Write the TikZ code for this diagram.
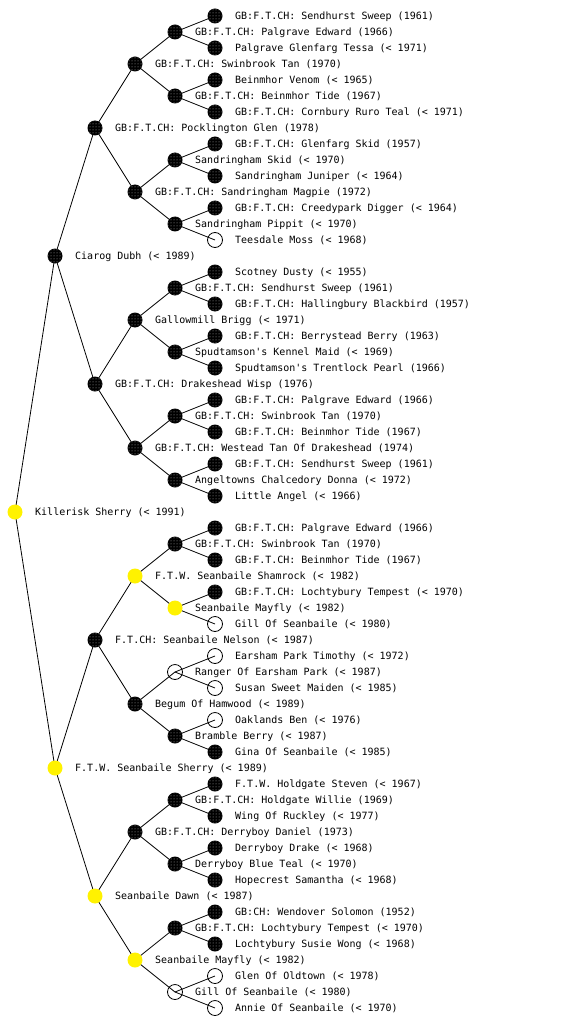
\documentclass[tikz,border=0pt]{standalone}
\usepackage{fontspec}
\newfontfamily\monof{DejaVu Sans Mono}
\usetikzlibrary{backgrounds,patterns}
\begin{document}
\begin{tikzpicture}[x=1pt,y=-1pt,
  pnode/.style={circle,minimum size=15pt,inner sep=0pt,outer sep=0pt},
  blk/.style={pnode,preaction={fill=black},pattern=dots,pattern color=white!70!black},
  yel/.style={pnode,fill=yellow},
  wht/.style={pnode,draw=black,line width=0.8pt},
  lbl/.style={font=\monof\fontsize{10}{12}\selectfont,inner sep=0pt,anchor=base west,text=black},
  conn/.style={draw=black,line width=0.8pt}]
\useasboundingbox (0,0) rectangle (560,1024);
\foreach \r/\l/\s/\t in {
 1/5/blk/{GB:F.T.CH: Sendhurst Sweep (1961)},
 2/4/blk/{GB:F.T.CH: Palgrave Edward (1966)},
 3/5/blk/{Palgrave Glenfarg Tessa (< 1971)},
 4/3/blk/{GB:F.T.CH: Swinbrook Tan (1970)},
 5/5/blk/{Beinmhor Venom (< 1965)},
 6/4/blk/{GB:F.T.CH: Beinmhor Tide (1967)},
 7/5/blk/{GB:F.T.CH: Cornbury Ruro Teal (< 1971)},
 8/2/blk/{GB:F.T.CH: Pocklington Glen (1978)},
 9/5/blk/{GB:F.T.CH: Glenfarg Skid (1957)},
 10/4/blk/{Sandringham Skid (< 1970)},
 11/5/blk/{Sandringham Juniper (< 1964)},
 12/3/blk/{GB:F.T.CH: Sandringham Magpie (1972)},
 13/5/blk/{GB:F.T.CH: Creedypark Digger (< 1964)},
 14/4/blk/{Sandringham Pippit (< 1970)},
 15/5/wht/{Teesdale Moss (< 1968)},
 16/1/blk/{Ciarog Dubh (< 1989)},
 17/5/blk/{Scotney Dusty (< 1955)},
 18/4/blk/{GB:F.T.CH: Sendhurst Sweep (1961)},
 19/5/blk/{GB:F.T.CH: Hallingbury Blackbird (1957)},
 20/3/blk/{Gallowmill Brigg (< 1971)},
 21/5/blk/{GB:F.T.CH: Berrystead Berry (1963)},
 22/4/blk/{Spudtamson's Kennel Maid (< 1969)},
 23/5/blk/{Spudtamson's Trentlock Pearl (1966)},
 24/2/blk/{GB:F.T.CH: Drakeshead Wisp (1976)},
 25/5/blk/{GB:F.T.CH: Palgrave Edward (1966)},
 26/4/blk/{GB:F.T.CH: Swinbrook Tan (1970)},
 27/5/blk/{GB:F.T.CH: Beinmhor Tide (1967)},
 28/3/blk/{GB:F.T.CH: Westead Tan Of Drakeshead (1974)},
 29/5/blk/{GB:F.T.CH: Sendhurst Sweep (1961)},
 30/4/blk/{Angeltowns Chalcedory Donna (< 1972)},
 31/5/blk/{Little Angel (< 1966)},
 32/0/yel/{Killerisk Sherry (< 1991)},
 33/5/blk/{GB:F.T.CH: Palgrave Edward (1966)},
 34/4/blk/{GB:F.T.CH: Swinbrook Tan (1970)},
 35/5/blk/{GB:F.T.CH: Beinmhor Tide (1967)},
 36/3/yel/{F.T.W. Seanbaile Shamrock (< 1982)},
 37/5/blk/{GB:F.T.CH: Lochtybury Tempest (< 1970)},
 38/4/yel/{Seanbaile Mayfly (< 1982)},
 39/5/wht/{Gill Of Seanbaile (< 1980)},
 40/2/blk/{F.T.CH: Seanbaile Nelson (< 1987)},
 41/5/wht/{Earsham Park Timothy (< 1972)},
 42/4/wht/{Ranger Of Earsham Park (< 1987)},
 43/5/wht/{Susan Sweet Maiden (< 1985)},
 44/3/blk/{Begum Of Hamwood (< 1989)},
 45/5/wht/{Oaklands Ben (< 1976)},
 46/4/blk/{Bramble Berry (< 1987)},
 47/5/blk/{Gina Of Seanbaile (< 1985)},
 48/1/yel/{F.T.W. Seanbaile Sherry (< 1989)},
 49/5/blk/{F.T.W. Holdgate Steven (< 1967)},
 50/4/blk/{GB:F.T.CH: Holdgate Willie (1969)},
 51/5/blk/{Wing Of Ruckley (< 1977)},
 52/3/blk/{GB:F.T.CH: Derryboy Daniel (1973)},
 53/5/blk/{Derryboy Drake (< 1968)},
 54/4/blk/{Derryboy Blue Teal (< 1970)},
 55/5/blk/{Hopecrest Samantha (< 1968)},
 56/2/yel/{Seanbaile Dawn (< 1987)},
 57/5/blk/{GB:CH: Wendover Solomon (1952)},
 58/4/blk/{GB:F.T.CH: Lochtybury Tempest (< 1970)},
 59/5/blk/{Lochtybury Susie Wong (< 1968)},
 60/3/yel/{Seanbaile Mayfly (< 1982)},
 61/5/wht/{Glen Of Oldtown (< 1978)},
 62/4/wht/{Gill Of Seanbaile (< 1980)},
 63/5/wht/{Annie Of Seanbaile (< 1970)}}
{
  \node[\s] (r\r) at ({15+40*\l},{16*\r}) {};
  \node[lbl] (t\r) at ([xshift=20pt,yshift=-3.6pt]r\r.center) {\t};
}
\begin{pgfonlayer}{background}
\foreach \p/\d in {32/16,16/8,48/8,8/4,24/4,40/4,56/4,
  4/2,12/2,20/2,28/2,36/2,44/2,52/2,60/2,
  2/1,6/1,10/1,14/1,18/1,22/1,26/1,30/1,34/1,38/1,42/1,46/1,50/1,54/1,58/1,62/1}
{
  \pgfmathtruncatemacro\ca{\p-\d}
  \pgfmathtruncatemacro\cb{\p+\d}
  \draw[conn] (r\p.center) -- (r\ca.center);
  \draw[conn] (r\p.center) -- (r\cb.center);
}
\end{pgfonlayer}
\end{tikzpicture}
\end{document}
